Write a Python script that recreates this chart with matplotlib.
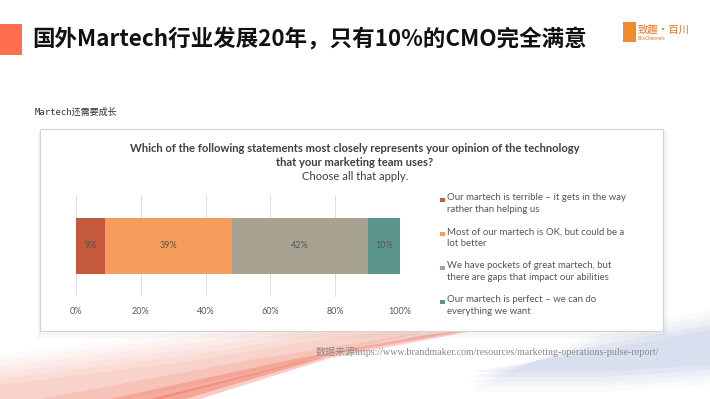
import numpy as np
import matplotlib
matplotlib.use("Agg")
import matplotlib.pyplot as plt
from matplotlib.patches import Rectangle, Polygon

plt.rcParams['font.family'] = ['Lato', 'Noto Sans CJK SC', 'DejaVu Sans']

# Survey data
shares = [9, 39, 42, 10]
share_labels = ["9%", "39%", "42%", "10%"]
answers = [
    "Our martech is terrible \u2013 it gets in the way\nrather than helping us",
    "Most of our martech is OK, but could be a\nlot better",
    "We have pockets of great martech, but\nthere are gaps that impact our abilities",
    "Our martech is perfect \u2013 we can do\neverything we want",
]
colors = ["#C45A3B", "#F79D5B", "#A8A291", "#5B968E"]
x_ticks = [0, 20, 40, 60, 80, 100]
x_tick_labels = ["0%", "20%", "40%", "60%", "80%", "100%"]

W, H = 710, 399
fig = plt.figure(figsize=(W / 100, H / 100), dpi=100)
fig.patch.set_facecolor("white")

# background layer in pixel coordinates
bg = fig.add_axes([0, 0, 1, 1])
bg.set_xlim(0, W)
bg.set_ylim(H, 0)
bg.axis("off")

# decorative swooshes at the bottom
for i, a in enumerate(np.linspace(0.07, 0.03, 6)):
    off = i * 6
    bg.add_patch(Polygon([(0, 399), (0, 385 - off), (200, 360 - off), (330, 338 - off),
                          (470, 322 - off), (470, 330), (330, 355), (160, 399)],
                         closed=True, color="#F0644A", alpha=a, lw=0))
bg.add_patch(Polygon([(110, 399), (290, 360), (420, 336), (510, 324), (330, 358), (200, 399)],
                     closed=True, color="#EE5A40", alpha=0.30, lw=0))
bg.add_patch(Polygon([(150, 399), (300, 362), (440, 334), (330, 356), (185, 399)],
                     closed=True, color="#E84A30", alpha=0.30, lw=0))
bg.add_patch(Polygon([(40, 399), (250, 360), (420, 333), (300, 362), (130, 399)],
                     closed=True, color="#F5886E", alpha=0.22, lw=0))
for i, a in enumerate(np.linspace(0.12, 0.04, 5)):
    off = i * 5
    bg.add_patch(Polygon([(470, 372 + off), (600, 350 - off), (710, 330 - off), (710, 365 + off),
                          (600, 372 + off)],
                         closed=True, color="#8FA6D2", alpha=a, lw=0))

# header
bg.add_patch(Rectangle((0, 24), 22, 31, color="#FF6E4E", lw=0))
bg.text(32, 40, "国外Martech行业发展20年，只有10%的CMO完全满意", fontsize=16.2,
        fontweight="heavy", family=["Noto Sans CJK SC", "DejaVu Sans"],
        va="center", ha="left", color="#111111")
bg.add_patch(Rectangle((623, 22), 13, 20, color="#F08A2C", lw=0))
bg.text(638, 30, "致趣·百川", fontsize=7.5, family=["Noto Sans CJK SC"],
        va="center", ha="left", color="#E8742A")
bg.text(638, 39, "BesChannels", fontsize=3.5, va="center", ha="left", color="#E8742A")

bg.text(35, 112, "Martech还需要成长", fontsize=6.5,
        family=["DejaVu Sans Mono", "Noto Sans CJK SC"], va="center", ha="left",
        color="#333333")

# chart frame with soft shadow
for i, a in enumerate([0.05, 0.04, 0.03]):
    bg.add_patch(Rectangle((40 - i, 129 + 2 + i), 624 + 2 * i, 202 + i, facecolor="none",
                           edgecolor="#888888", alpha=a, lw=2))
bg.add_patch(Rectangle((40, 129), 623, 202, facecolor="white", edgecolor="#D6D3CC", lw=0.8))

bg.text(355, 148, "Which of the following statements most closely represents your opinion of the technology",
        fontsize=8.1, fontweight="bold", ha="center", va="center", color="#404040")
bg.text(355, 162, "that your marketing team uses?", fontsize=8.1, fontweight="bold",
        ha="center", va="center", color="#404040")
bg.text(355, 176, "Choose all that apply.", fontsize=8.1, ha="center", va="center",
        color="#404040")

# legend
legend_y = [200, 234, 268, 302]
for y, txt, c in zip(legend_y, answers, colors):
    bg.add_patch(Rectangle((440, y - 2.5), 4.5, 4.5, color=c, lw=0))
    bg.text(447, y - 6.5, txt, fontsize=6.9, ha="left", va="top", color="#555555",
            linespacing=1.3)

bg.text(316, 352, "数据来源https://www.brandmaker.com/resources/marketing-operations-pulse-report/",
        fontsize=7.2, family=["Liberation Serif", "Noto Sans CJK SC"], ha="left",
        va="center", color="#8A8A8A")

# stacked bar
ax = fig.add_axes([76 / W, 1 - 297 / H, (400 - 76) / W, (297 - 195) / H])
ax.set_xlim(0, 100)
ax.set_ylim(0, 1)
ax.patch.set_alpha(0)
left = 0
for v, lab, c in zip(shares, share_labels, colors):
    ax.barh(0.5, v, left=left, height=0.55, color=c, zorder=2)
    ax.text(left + v / 2, 0.5, lab, ha="center", va="center", fontsize=6.5,
            color="#555555", zorder=3)
    left += v
ax.set_xticks(x_ticks)
ax.set_xticklabels(x_tick_labels, fontsize=6.5, color="#595959")
ax.set_yticks([])
ax.grid(axis="x", color="#DDDDDD", lw=0.7, zorder=0)
ax.tick_params(axis="x", length=0, pad=7)
for s in ax.spines.values():
    s.set_visible(False)

fig.savefig("out.png", dpi=100)
